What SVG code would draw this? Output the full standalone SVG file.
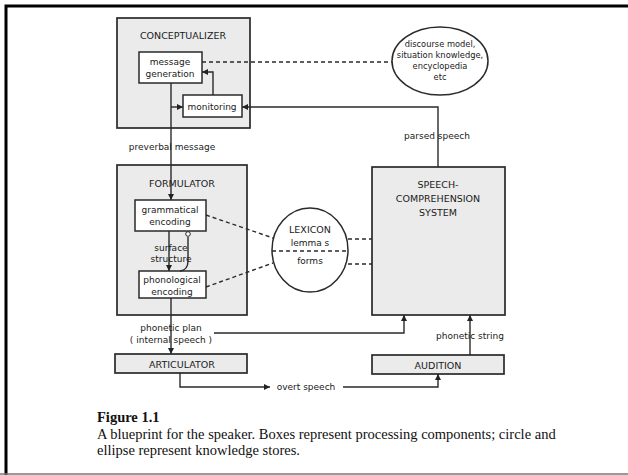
<svg xmlns="http://www.w3.org/2000/svg" width="628" height="475" viewBox="0 0 628 475">
<defs>
<marker id="ah" viewBox="0 0 8 8" refX="8" refY="4" markerWidth="6" markerHeight="6" markerUnits="userSpaceOnUse" orient="auto">
<path d="M0,0 L8,4 L0,8 Z" fill="#222"/>
</marker>
<style>
.box{fill:#ebebeb;stroke:#2a2a2a;stroke-width:1.7}
.wbox{fill:#fff;stroke:#2a2a2a;stroke-width:1.5}
.ell{fill:#fff;stroke:#2a2a2a;stroke-width:1.5}
.c{fill:none;stroke:#2a2a2a;stroke-width:1.4}
.d{fill:none;stroke:#2a2a2a;stroke-width:1.4;stroke-dasharray:4 3}
.t{font-family:"DejaVu Sans","Liberation Sans",sans-serif;font-size:9px;fill:#1a1a1a;text-anchor:middle}
.s{font-family:"DejaVu Sans","Liberation Sans",sans-serif;font-size:8.3px;fill:#1a1a1a;text-anchor:middle}
.T{font-family:"DejaVu Sans","Liberation Sans",sans-serif;font-size:9.5px;fill:#1a1a1a;text-anchor:middle}
.cap{font-family:"Liberation Serif",serif;font-size:14.5px;fill:#111}
</style>
</defs>
<rect width="628" height="475" fill="#fff"/>
<path d="M6,475 L6,6 L628,6" fill="none" stroke="#000" stroke-width="3"/>
<line x1="0" y1="474" x2="628" y2="474" stroke="#777" stroke-width="1.5"/>

<g id="conceptualizer">
<rect class="box" x="117" y="18" width="133" height="110"/>
<text class="T" x="183" y="39">CONCEPTUALIZER</text>
</g>
<g id="message-generation">
<rect class="wbox" x="139" y="52" width="63" height="31"/>
<text class="t" x="170" y="65">message</text>
<text class="t" x="170" y="77">generation</text>
</g>
<g id="monitoring">
<rect class="wbox" x="183" y="95" width="59" height="22"/>
<text class="t" x="212" y="110">monitoring</text>
</g>
<g id="discourse-model">
<ellipse class="ell" cx="440" cy="61" rx="48" ry="34"/>
<text class="s" x="440" y="47">discourse model,</text>
<text class="s" x="440" y="58">situation knowledge,</text>
<text class="s" x="440" y="69">encyclopedia</text>
<text class="s" x="440" y="80">etc</text>
</g>
<g id="formulator">
<rect class="box" x="117" y="165" width="130" height="150"/>
<text class="T" x="182" y="187">FORMULATOR</text>
</g>
<g id="grammatical-encoding">
<rect class="wbox" x="135" y="200" width="71" height="31"/>
<text class="t" x="170" y="213">grammatical</text>
<text class="t" x="170" y="225">encoding</text>
</g>
<g id="phonological-encoding">
<rect class="wbox" x="139" y="271" width="67" height="27"/>
<text class="t" x="172" y="283">phonological</text>
<text class="t" x="172" y="295">encoding</text>
</g>
<g id="lexicon">
<ellipse class="ell" cx="310" cy="250" rx="38" ry="42"/>
<line class="d" x1="272" y1="251" x2="348" y2="251"/>
<text class="T" x="310" y="233">LEXICON</text>
<text class="t" x="310" y="246">lemma s</text>
<text class="t" x="310" y="264">forms</text>
</g>
<g id="speech-comprehension">
<rect class="box" x="372" y="167" width="133" height="148"/>
<text class="T" x="438" y="188">SPEECH-</text>
<text class="T" x="438" y="202">COMPREHENSION</text>
<text class="T" x="438" y="216">SYSTEM</text>
</g>
<g id="articulator">
<rect class="box" x="115" y="354" width="132" height="19"/>
<text class="T" x="182" y="368">ARTICULATOR</text>
</g>
<g id="audition">
<rect class="box" x="372" y="355" width="132" height="19"/>
<text class="T" x="438" y="369">AUDITION</text>
</g>

<g id="connectors">
<path class="c" d="M171,83 L171,200" marker-end="url(#ah)"/>
<path class="c" d="M171,107 L183,107" marker-end="url(#ah)"/>
<path class="c" d="M213,95 L213,72 L202,72" marker-end="url(#ah)"/>
<path class="d" d="M202,62 L392,62"/>
<path class="c" d="M438,167 L438,107 L242,107" marker-end="url(#ah)"/>
<path class="c" d="M169,231 L169,271" marker-end="url(#ah)"/>
<path class="c" d="M180,271 Q188,270 188,261 L188,237"/>
<circle cx="188" cy="234" r="2.3" fill="#fff" stroke="#2a2a2a" stroke-width="1"/>
<path class="d" d="M206,215 L273,238"/>
<path class="d" d="M206,287 L273,263"/>
<path class="d" d="M348,239 L372,239"/>
<path class="d" d="M348,264 L372,264"/>
<path class="c" d="M171,298 L171,354" marker-end="url(#ah)"/>
<path class="c" d="M214,333 L404,333 L404,315" marker-end="url(#ah)"/>
<path class="c" d="M470,355 L470,315" marker-end="url(#ah)"/>
<path class="c" d="M180,373 L180,387 L270,387" marker-end="url(#ah)"/>
<path class="c" d="M343,387 L438,387 L438,374" marker-end="url(#ah)"/>
</g>

<g id="labels">
<text class="t" x="172" y="150">preverbal message</text>
<text class="t" x="171" y="251">surface</text>
<text class="t" x="171" y="262">structure</text>
<text class="t" x="437" y="139">parsed speech</text>
<text class="t" x="171" y="331">phonetic plan</text>
<text class="t" x="171" y="343">( internal speech )</text>
<text class="t" x="470" y="339">phonetic string</text>
<text class="t" x="306" y="390">overt speech</text>
</g>

<g id="caption">
<text class="cap" x="97" y="422" font-weight="bold">Figure 1.1</text>
<text class="cap" x="97" y="439">A blueprint for the speaker. Boxes represent processing components; circle and</text>
<text class="cap" x="97" y="455">ellipse represent knowledge stores.</text>
</g>
</svg>
